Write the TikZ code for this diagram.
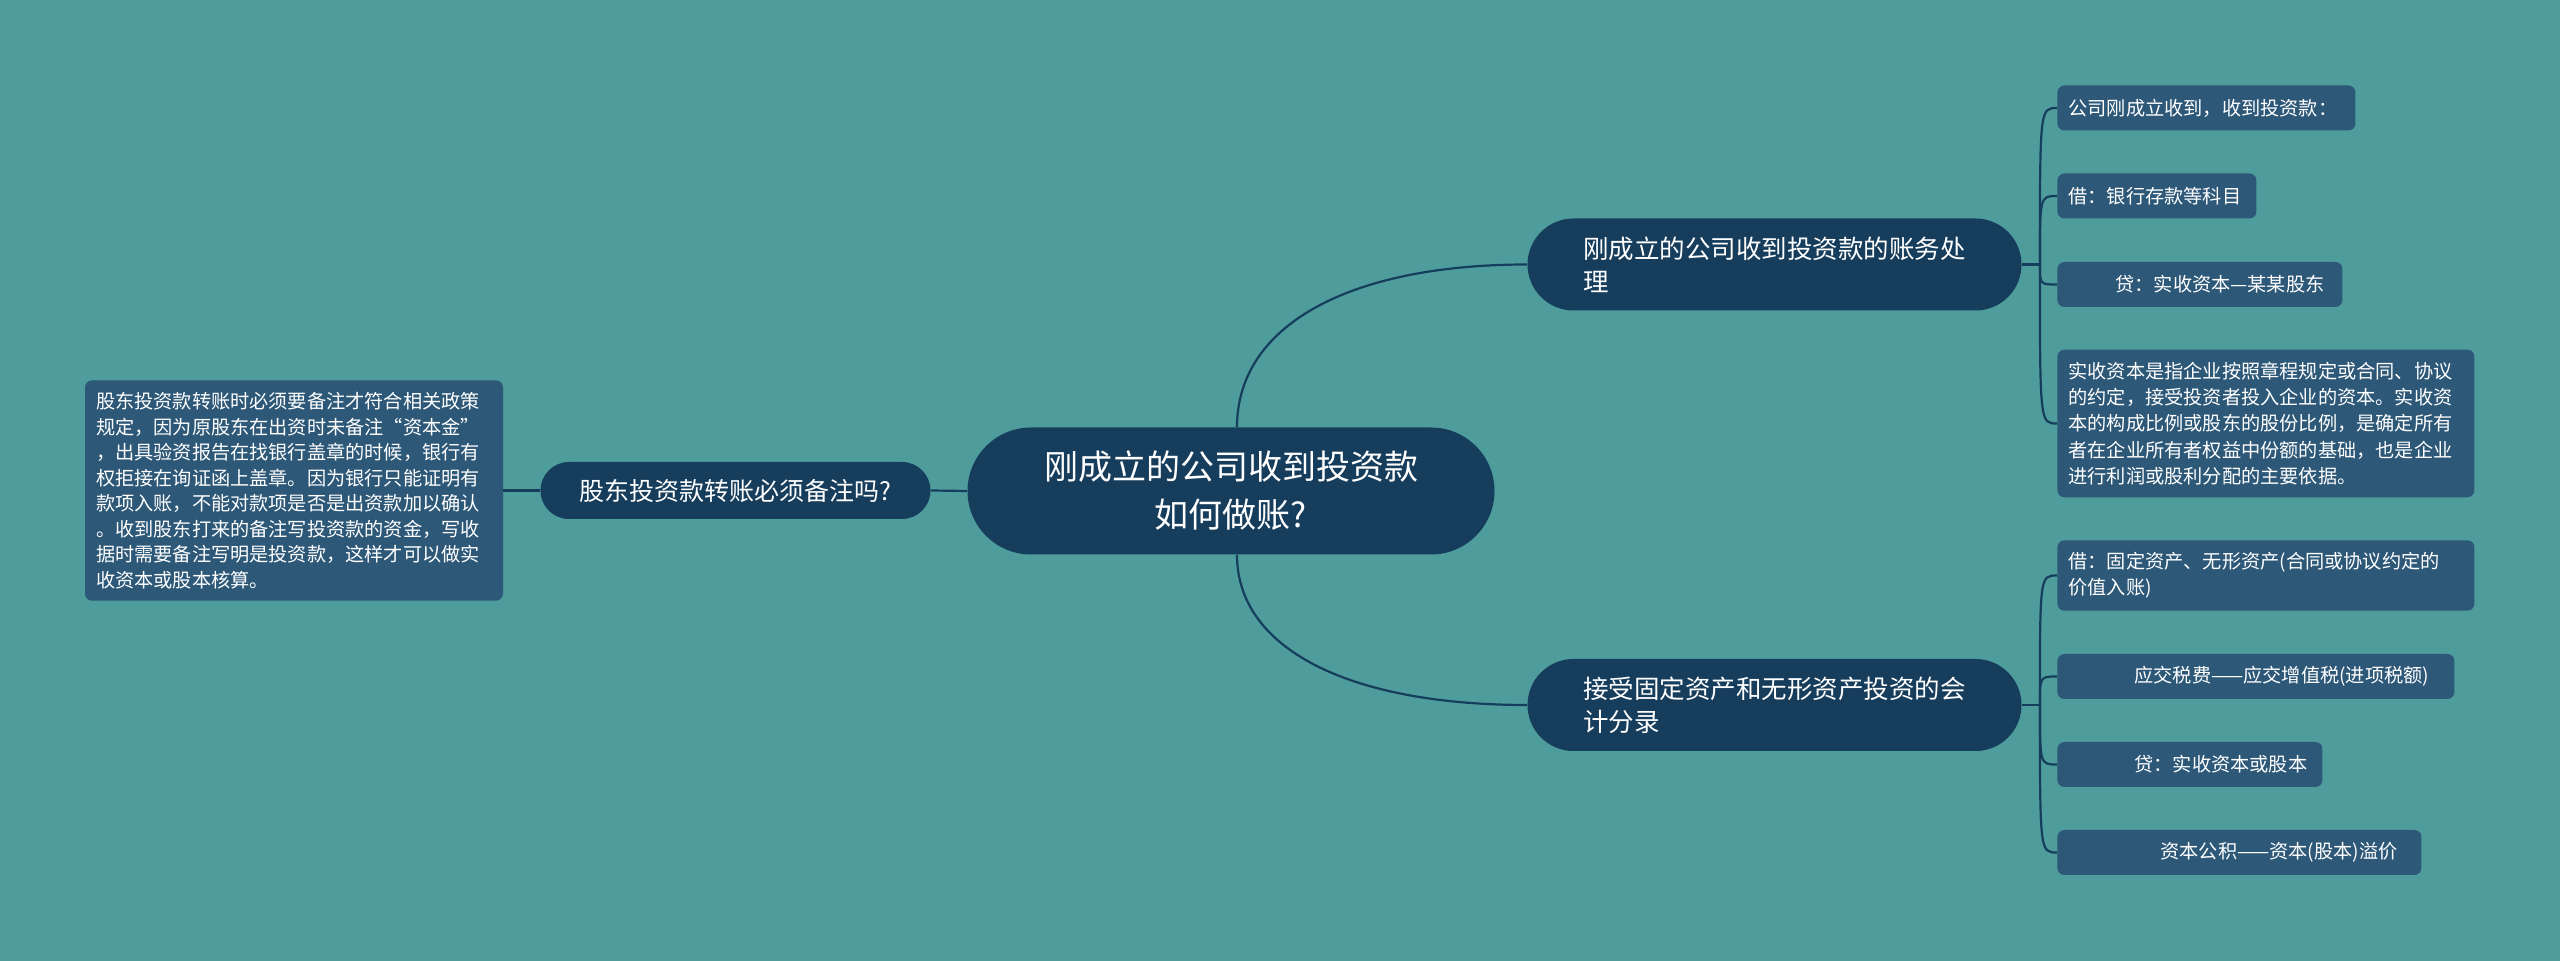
\documentclass[tikz,border=0pt]{standalone}
\usepackage{fontspec}
\setmainfont{Noto Sans CJK SC}
\usetikzlibrary{shapes.misc,positioning,calc}
\definecolor{bgteal}{HTML}{4E9C9C}
\definecolor{rootblue}{HTML}{173D5C}
\definecolor{leafblue}{HTML}{2D5878}

\begin{document}
\begin{tikzpicture}[x=0.5pt,y=-0.5pt,
  link/.style={draw=rootblue,line width=1.1pt},
  topic/.style={rounded rectangle,fill=rootblue,text=white,inner xsep=2pt,inner ysep=0pt},
  leaf/.style={rectangle,rounded corners=3.5pt,fill=leafblue,text=white,anchor=west,align=left,
    inner xsep=5.5pt,inner ysep=6pt,minimum height=22.5pt,font=\fontsize{9.6}{13.2}\selectfont}]
\fill[bgteal] (0,0) rectangle (2560,961);

\node[topic,minimum width=267.5pt,minimum height=63.5pt,align=center,
  font=\fontsize{17}{24}\selectfont] (root) at (1231,491) {刚成立的公司收到投资款\\如何做账?};
\node[topic,minimum width=251pt,minimum height=46pt,align=left,
  font=\fontsize{12.75}{16.6}\selectfont] (b1) at (1774.5,264.5) {刚成立的公司收到投资款的账务处\\理};
\node[topic,minimum width=251pt,minimum height=46pt,align=left,
  font=\fontsize{12.75}{16.6}\selectfont] (b2) at (1774.5,705) {接受固定资产和无形资产投资的会\\计分录};
\node[topic,minimum width=199pt,minimum height=28.5pt,
  font=\fontsize{12.5}{15}\selectfont] (lb) at (735.5,490.5) {股东投资款转账必须备注吗?};

\node[leaf,anchor=center,text width=198pt,font=\fontsize{9.6}{12.75}\selectfont] (ll) at (294,490.5)
  {股东投资款转账时必须要备注才符合相关政策\\规定，因为原股东在出资时未备注“资本金”\\，出具验资报告在找银行盖章的时候，银行有\\权拒接在询证函上盖章。因为银行只能证明有\\款项入账，不能对款项是否是出资款加以确认\\。收到股东打来的备注写投资款的资金，写收\\据时需要备注写明是投资款，这样才可以做实\\收资本或股本核算。};

\node[leaf,text width=138pt] (l1) at (2057,108) {公司刚成立收到，收到投资款：};
\node[leaf,text width=88.5pt] (l2) at (2057,196) {借：银行存款等科目};
\node[leaf,text width=131.5pt] (l3) at (2057,284.5) {\hspace*{23.5pt}贷：实收资本—某某股东};
\node[leaf,text width=197.5pt] (l4) at (2057,423.5)
  {实收资本是指企业按照章程规定或合同、协议\\的约定，接受投资者投入企业的资本。实收资\\本的构成比例或股东的股份比例，是确定所有\\者在企业所有者权益中份额的基础，也是企业\\进行利润或股利分配的主要依据。};
\node[leaf,text width=197.5pt] (l5) at (2057,575.5) {借：固定资产、无形资产(合同或协议约定的\\价值入账)};
\node[leaf,text width=187.5pt] (l6) at (2057,676.5) {\hspace*{33pt}应交税费——应交增值税(进项税额)};
\node[leaf,text width=121.5pt] (l7) at (2057,764.5) {\hspace*{33pt}贷：实收资本或股本};
\node[leaf,text width=171pt] (l8) at (2057,852.5) {\hspace*{46pt}资本公积——资本(股本)溢价};

\coordinate (f1) at ($(b1.east)+(18,0)$);
\coordinate (f2) at ($(b2.east)+(18,0)$);
\coordinate (c1) at ($(root.north)+(6,0)$);
\coordinate (c2) at ($(root.south)+(6,0)$);

\draw[link] (c1) .. controls ($(c1)!0.62!(c1 |- b1.west)$) and ($(b1.west)!0.62!(c1 |- b1.west)$) .. (b1.west);
\draw[link] (c2) .. controls ($(c2)!0.62!(c2 |- b2.west)$) and ($(b2.west)!0.62!(c2 |- b2.west)$) .. (b2.west);
\draw[link] (root.west) -- (lb.east);
\draw[link] (lb.west) -- (ll.east);
\draw[link] (b1.east) -- (f1);
\draw[link] (b2.east) -- (f2);
\foreach \l in {l1,l2,l3,l4}
  \draw[link] (f1) .. controls (f1 |- \l.west) .. (\l.west);
\foreach \l in {l5,l6,l7,l8}
  \draw[link] (f2) .. controls (f2 |- \l.west) .. (\l.west);
\end{tikzpicture}
\end{document}
